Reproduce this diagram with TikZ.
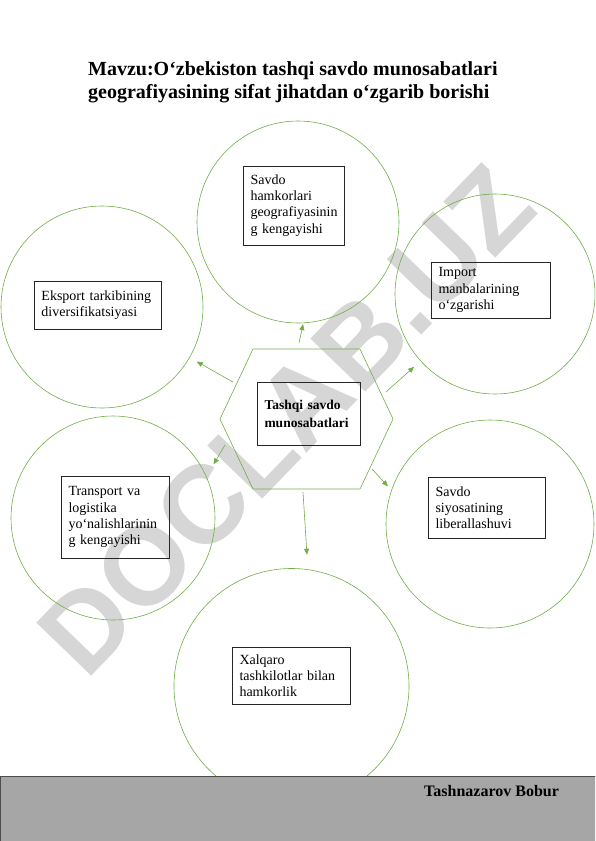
\documentclass[tikz,border=0pt]{standalone}
\usepackage{fontspec}
\setmainfont{Liberation Serif}
\newfontfamily\markfont{Liberation Sans}
\usetikzlibrary{arrows.meta}
\definecolor{ringgreen}{RGB}{112,173,71}

\begin{document}
\begin{tikzpicture}[x=1pt,y=-1pt,
   greenline/.style={draw=ringgreen,line width=0.6pt},
   ring/.style={greenline,shape=circle,inner sep=0pt},
   tbox/.style={shape=rectangle,draw=black!85,line width=0.8pt,align=left,inner xsep=7pt,inner ysep=3pt,font=\fontsize{14}{16.1}\selectfont},
   link/.style={greenline,-{Triangle[length=6pt,width=5pt]}}]

   \useasboundingbox (0,0) rectangle (595,841);
   \clip (0,0) rectangle (595,841);

   % watermark
   \node[text=black!16,font=\markfont\bfseries\fontsize{111}{111}\selectfont,rotate=46] (mark) at (286,420) {DOCLAB.UZ};

   \node[anchor=north west,inner sep=0pt,align=left,font=\bfseries\fontsize{20}{23}\selectfont] (title) at (88,61)
      {Mavzu:O‘zbekiston tashqi savdo munosabatlari\\geografiyasining sifat jihatdan o‘zgarib borishi};

   % circles
   \node[ring,minimum size=202pt] (hamkor) at (298,222) {};
   \node[ring,minimum size=202pt] (eksport) at (102,307) {};
   \node[ring,minimum size=200pt] (import) at (495,294) {};
   \node[ring,minimum size=204pt] (transport) at (113,518) {};
   \node[ring,minimum size=208pt] (siyosat) at (490,524) {};
   \node[ring,minimum size=235pt] (xalqaro) at (291.5,686) {};

   % hexagon in the middle
   \draw[greenline] (220,419) -- (253,349) -- (360,349) -- (393,419) -- (360,489) -- (253,489) -- cycle;

   % text boxes
   \node[tbox,text width=87pt,minimum height=79pt] (t1) at (294,205.5) {Savdo\\hamkorlari\\geografiyasinin\\g kengayishi};
   \node[tbox,text width=113pt,minimum height=48pt] (t2) at (98,305) {Eksport tarkibining\\diversifikatsiyasi};
   \node[tbox,text width=105pt,minimum height=56pt] (t3) at (491,290) {Import\\manbalarining\\o‘zgarishi};
   \node[tbox,text width=94pt,minimum height=82pt] (t4) at (115.5,517) {Transport va\\logistika\\yo‘nalishlarinin\\g kengayishi};
   \node[tbox,text width=103pt,minimum height=61pt] (t5) at (487,507.5) {Savdo\\siyosatining\\liberallashuvi};
   \node[tbox,text width=104pt,minimum height=57pt] (t6) at (291.5,675.5) {Xalqaro\\tashkilotlar bilan\\hamkorlik};
   \node[tbox,text width=89pt,minimum height=63pt,font=\bfseries\fontsize{13.5}{18}\selectfont] (core) at (309,413.5) {Tashqi savdo\\munosabatlari};

   % arrows
   \coordinate (s1) at (299,343);
   \coordinate (s2) at (233,382);
   \coordinate (s3) at (386,392);
   \coordinate (s4) at (225,445);
   \coordinate (s5) at (372,469);
   \coordinate (s6) at (303,492);
   \draw[link,shorten >=1pt] (s1) -- (hamkor.-87);
   \draw[link,shorten >=8pt] (s2) -- (eksport.-30);
   \draw[link,shorten >=8.6pt] (s3) -- (import.-138);
   \draw[link,shorten >=14pt] (s4) -- (transport.24);
   \draw[link,shorten >=5pt] (s5) -- (siyosat.161);
   \draw[link,shorten >=14.7pt] (s6) -- (xalqaro.82);

   % footer
   \draw[draw=black!70,fill=black!35,line width=0.8pt] (0,776) rectangle (596,842);
   \node[anchor=base west,inner sep=0pt,font=\bfseries\fontsize{16}{19}\selectfont] (author) at (424,796) {Tashnazarov Bobur};

\end{tikzpicture}
\end{document}
